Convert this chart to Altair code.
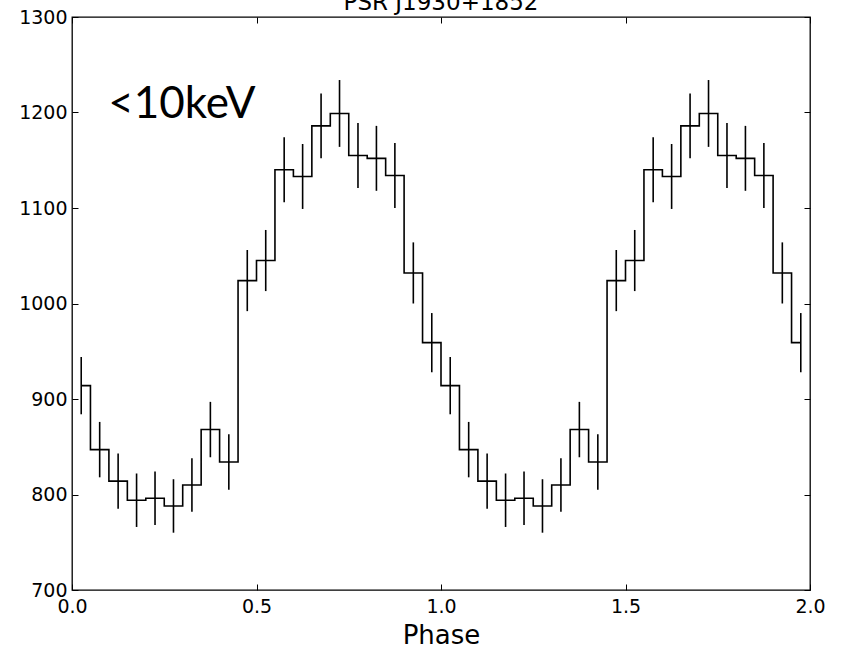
import altair as alt
import pandas as pd

# ---- data ----
bin_width = 0.05
counts_cycle = [914, 847, 814, 794, 796, 788, 810, 868, 834, 1024,
                1045, 1140, 1133, 1186, 1199, 1155, 1152, 1134, 1032, 959]
errors_cycle = [30, 29, 29, 28, 28, 28, 28, 29, 29, 32,
                32, 34, 34, 34, 35, 34, 34, 34, 32, 31]
n_cycles = 2
x_ticks = [0.0, 0.5, 1.0, 1.5, 2.0]
y_ticks = [700, 800, 900, 1000, 1100, 1200, 1300]
title_text = "PSR J1930+1852"
x_title = "Phase"
label_text = ["<10keV"]
label_x = [0.098]
label_y = [1194]

counts = counts_cycle * n_cycles
errors = errors_cycle * n_cycles
phase = [bin_width * (i + 0.5) for i in range(len(counts))]
df = pd.DataFrame({
    "phase": phase,
    "count": counts,
    "lo": [c - e for c, e in zip(counts, errors)],
    "hi": [c + e for c, e in zip(counts, errors)],
})
lab = pd.DataFrame({"x": label_x, "y": label_y, "t": label_text})

W, H = 738, 573
FONT = "DejaVu Sans"
INWARD = {"expr": "-6"}

xscale = alt.Scale(domain=[0, 2], nice=False, zero=False)
yscale = alt.Scale(domain=[700, 1300], nice=False, zero=False)

common_axis = dict(grid=False, domain=False, tickColor="black", tickWidth=1,
                   tickSize=INWARD, labelFont=FONT, labelFontSize=19,
                   labelColor="black", labelFlush=False, labelOverlap=False)

x_main = alt.Axis(values=x_ticks, format=".1f", labelPadding=13,
                  title=x_title, titleFont=FONT, titleFontSize=26,
                  titleFontWeight="normal", titleColor="black", titlePadding=6,
                  **common_axis)
y_main = alt.Axis(values=y_ticks, format="d", labelPadding=11, title=None,
                  **common_axis)
x_top = alt.Axis(orient="top", values=x_ticks, labels=False, title=None,
                 grid=False, domain=False, tickColor="black", tickWidth=1,
                 tickSize=INWARD)
y_right = alt.Axis(orient="right", values=y_ticks, labels=False, title=None,
                   grid=False, domain=False, tickColor="black", tickWidth=1,
                   tickSize=INWARD)

base = alt.Chart(df)

steps = base.mark_line(interpolate="step", color="black", strokeWidth=1.6).encode(
    x=alt.X("phase:Q", scale=xscale, axis=x_main),
    y=alt.Y("count:Q", scale=yscale, axis=y_main),
)

bars = base.mark_rule(color="black", strokeWidth=1.6).encode(
    x=alt.X("phase:Q", scale=xscale, axis=None),
    y=alt.Y("lo:Q", scale=yscale, axis=None),
    y2="hi:Q",
)

ghost = base.mark_line(strokeOpacity=0).encode(
    x=alt.X("phase:Q", scale=xscale, axis=x_top),
    y=alt.Y("count:Q", scale=yscale, axis=y_right),
)

text = alt.Chart(lab).mark_text(align="left", baseline="alphabetic",
                                font="Lato", fontSize=44, color="black").encode(
    x=alt.X("x:Q", scale=xscale, axis=None),
    y=alt.Y("y:Q", scale=yscale, axis=None),
    text="t:N",
)

chart = alt.layer(steps, bars, ghost, text).resolve_axis(
    x="independent", y="independent"
).properties(
    width=W, height=H,
    autosize=alt.AutoSizeParams(type="none"),
    padding={"left": 72, "top": 17, "right": 38, "bottom": 62},
    title=alt.TitleParams(text=title_text, font=FONT, fontSize=23,
                          fontWeight="normal", color="black", anchor="middle",
                          baseline="alphabetic", offset=0, dy=25),
).configure_view(stroke="black", strokeWidth=1.3)

chart.save("out.html", embed_options={"renderer": "svg", "actions": False})
